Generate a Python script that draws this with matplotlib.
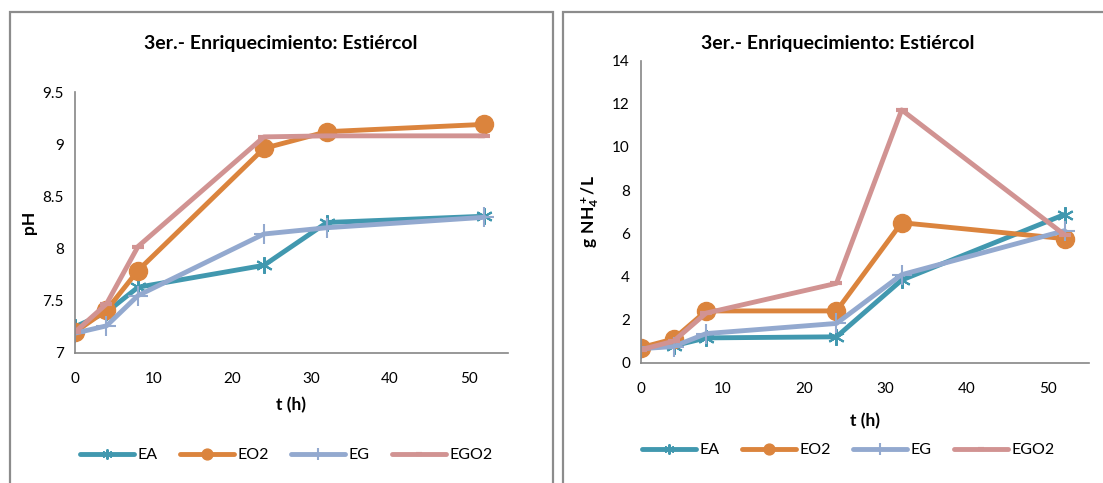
import numpy as np
import matplotlib
matplotlib.use("Agg")
import matplotlib.pyplot as plt
from matplotlib.patches import Rectangle
from matplotlib.ticker import FuncFormatter, MultipleLocator

plt.rcParams['font.family'] = ['Lato', 'DejaVu Sans']
plt.rcParams['mathtext.fontset'] = 'custom'
plt.rcParams['mathtext.rm'] = 'Lato'
plt.rcParams['mathtext.bf'] = 'Lato:bold'

# data
t = [0, 4, 8, 24, 32, 52]
series = ['EA', 'EO2', 'EG', 'EGO2']

ph_EA = [7.25, 7.39, 7.63, 7.84, 8.25, 8.31]
ph_EO2 = [7.20, 7.41, 7.79, 8.96, 9.12, 9.19]
ph_EG = [7.19, 7.26, 7.55, 8.14, 8.20, 8.30]
ph_EGO2 = [7.20, 7.47, 8.02, 9.07, 9.08, 9.08]

nh_EA = [0.68, 0.78, 1.15, 1.20, 3.83, 6.87]
nh_EO2 = [0.70, 1.10, 2.40, 2.40, 6.49, 5.75]
nh_EG = [0.65, 0.75, 1.35, 1.82, 4.08, 6.12]
nh_EGO2 = [0.60, 1.00, 2.30, 3.68, 11.72, 5.93]

colors = {'EA': '#4198AF', 'EO2': '#DB843D', 'EG': '#93A9CF', 'EGO2': '#D19392'}
styles = {
    'EA': dict(marker=(6, 2, 0), markersize=12, markeredgewidth=1.5),
    'EO2': dict(marker='o', markersize=13),
    'EG': dict(marker='+', markersize=14, markeredgewidth=1.5),
    'EGO2': dict(marker='_', markersize=8, markeredgewidth=3),
}

title = '3er.- Enriquecimiento: Estiércol'

fig = plt.figure(figsize=(11.03, 4.83), dpi=100)
W, H = 1103, 483


def fx(px):
    return px / W


def fy(py):
    return 1 - py / H


# panel borders
for x0, x1 in [(10, 553), (563, 1110)]:
    fig.add_artist(Rectangle((fx(x0), fy(495)), fx(x1 - x0), (495 - 12) / H,
                             transform=fig.transFigure, fill=False,
                             edgecolor='#8c8c8c', linewidth=1.6))

axL = fig.add_axes([fx(75), fy(353), fx(508 - 75), (353 - 92) / H])
axR = fig.add_axes([fx(641), fy(362.7), fx(1089 - 641), (362.7 - 60.7) / H])

left_data = {'EA': ph_EA, 'EO2': ph_EO2, 'EG': ph_EG, 'EGO2': ph_EGO2}
right_data = {'EA': nh_EA, 'EO2': nh_EO2, 'EG': nh_EG, 'EGO2': nh_EGO2}

for ax, data in [(axL, left_data), (axR, right_data)]:
    for name in series:
        ax.plot(t, data[name], color=colors[name], linewidth=3.5,
                solid_capstyle='round', label=name, **styles[name])
    ax.set_xlim(0, 55)
    ax.xaxis.set_major_locator(MultipleLocator(10))
    for s in ['top', 'right']:
        ax.spines[s].set_visible(False)
    for s in ['left', 'bottom']:
        ax.spines[s].set_color('#868686')
        ax.spines[s].set_linewidth(1.2)
    ax.tick_params(length=0, labelsize=11, pad=14)
    ax.tick_params(axis='y', pad=8)
    ax.set_xlabel('t (h)', fontsize=12.5, fontweight='bold')
    ax.yaxis.set_major_formatter(FuncFormatter(lambda v, p: '%g' % v))

axL.set_ylim(7, 9.5)
axL.yaxis.set_major_locator(MultipleLocator(0.5))
axL.set_ylabel('pH', fontsize=12.5, fontweight='bold', labelpad=4)
axL.xaxis.set_label_coords(0.5, -0.17)

axR.set_ylim(0, 14)
axR.yaxis.set_major_locator(MultipleLocator(2))
axR.set_ylabel(r'$\mathbf{g\ NH_4^+/L}$', fontsize=12.5, labelpad=8)
axR.xaxis.set_label_coords(0.5, -0.165)

fig.text(fx(281), fy(44), title, ha='center', va='center', fontsize=14, fontweight='bold')
fig.text(fx(838), fy(44), title, ha='center', va='center', fontsize=14, fontweight='bold')

for ax, cx, cy in [(axL, 286, 455), (axR, 848, 450)]:
    h, l = ax.get_legend_handles_labels()
    fig.legend(h, l, loc='center', bbox_to_anchor=(fx(cx), fy(cy)), ncol=4,
               frameon=False, fontsize=11.5, handlelength=3.4, columnspacing=1.4,
               handletextpad=0.2, markerscale=0.6)

fig.savefig('out.png', dpi=100)
